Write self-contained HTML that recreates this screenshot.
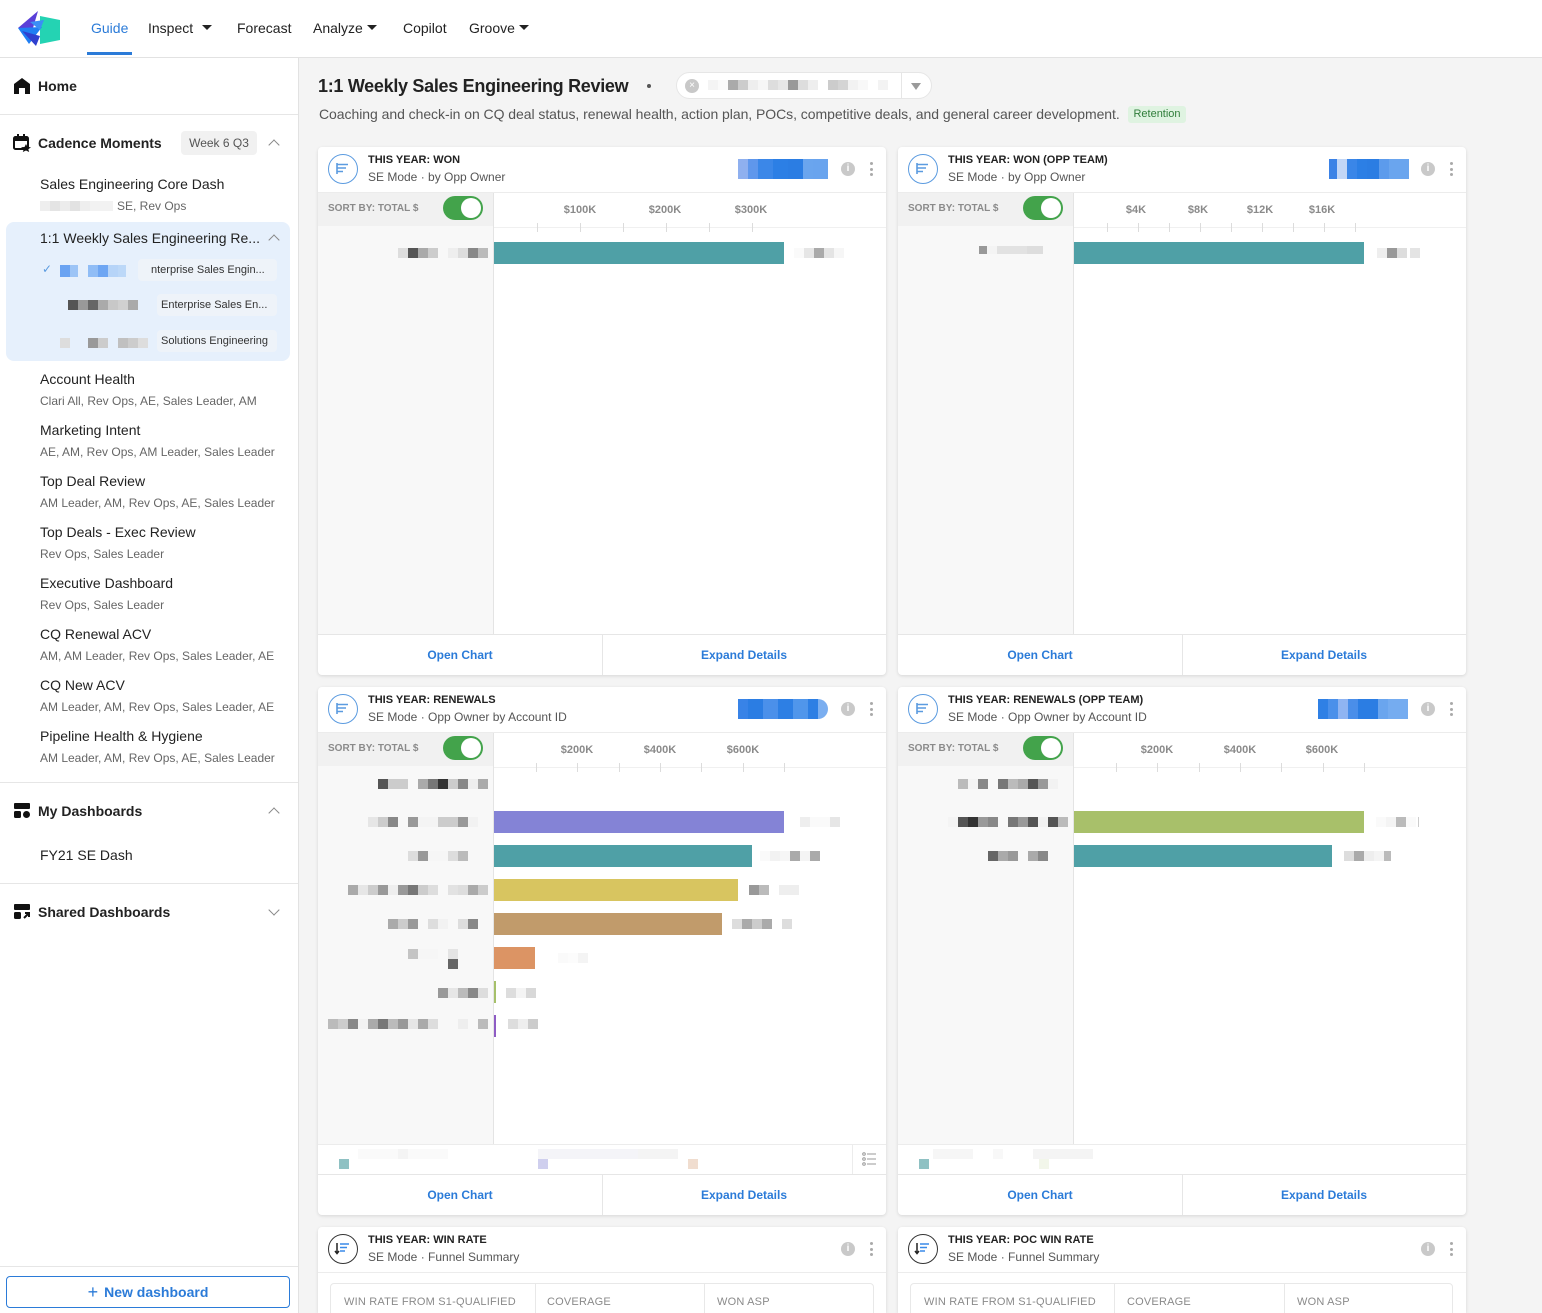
<!DOCTYPE html>
<html><head><meta charset="utf-8">
<style>
*{box-sizing:border-box;margin:0;padding:0}
html{width:1542px;height:1313px;overflow:hidden}
body{width:1542px;height:1313px;overflow:hidden;font-family:"Liberation Sans",Arial,sans-serif;background:#f4f4f4;position:relative;color:#222}
.a{position:absolute}
.nav{top:19px;font-size:14px;color:#222;line-height:18px;white-space:nowrap}
.tri{position:absolute;width:0;height:0;border-left:5px solid transparent;border-right:5px solid transparent;border-top:5px solid #222}
.sb{position:absolute;left:0;top:58px;width:299px;height:1255px;background:#fff;border-right:1px solid #e2e2e2}
.hr{position:absolute;left:0;width:298px;height:1px;background:#e6e6e6}
.it{position:absolute;left:40px;font-size:14px;line-height:18px;color:#222;white-space:nowrap}
.sub{position:absolute;left:40px;font-size:12px;line-height:14px;color:#666;white-space:nowrap}
.bold{font-weight:bold}
.chev{position:absolute;width:8px;height:8px;border-left:1.5px solid #888;border-top:1.5px solid #888;transform:rotate(45deg)}
.chevd{position:absolute;width:8px;height:8px;border-left:1.5px solid #888;border-top:1.5px solid #888;transform:rotate(225deg)}
.px{position:absolute;display:flex;height:10px}
.px i{display:block;height:10px;width:10px}
.card{position:absolute;width:568px;background:#fff;border-radius:4px;box-shadow:0 1px 3px rgba(0,0,0,.12);overflow:hidden}
.ttl{position:absolute;left:50px;top:6px;font-size:11px;font-weight:bold;line-height:14px;color:#222;white-space:nowrap}
.st{position:absolute;left:50px;top:23px;font-size:12px;line-height:14px;color:#555;white-space:nowrap}
.ico{position:absolute;left:10px;top:7px;width:30px;height:30px;border-radius:50%;border:1.5px solid #5b9be0}
.info{position:absolute;left:523px;top:15px;width:14px;height:14px;border-radius:50%;background:#c9c9c9;color:#fff;font-size:10px;font-weight:bold;line-height:14px;text-align:center}
.keb{position:absolute;left:552px;top:15px;width:3px;height:14px}
.keb i{display:block;width:3px;height:3px;border-radius:50%;background:#aaa;margin-bottom:2.5px}
.hl{position:absolute;left:0;width:568px;height:1px;background:#ececec}
.lp{position:absolute;left:0;top:46px;width:176px;background:#f8f8f8;border-right:1px solid #e4e4e4}
.sr{position:absolute;left:0;top:46px;width:175px;height:33px;background:#f1f1f1}
.srt{position:absolute;left:10px;top:56px;font-size:10px;font-weight:bold;color:#8a8a8a;line-height:12px;white-space:nowrap}
.tg{position:absolute;left:125px;top:49px;width:40px;height:24px;border-radius:12px;background:#43a34b}
.tg i{position:absolute;right:2px;top:2px;width:20px;height:20px;border-radius:50%;background:#fff}
.ax{position:absolute;top:57px;font-size:11px;font-weight:bold;color:#8a8a8a;line-height:12px;transform:translateX(-50%);white-space:nowrap}
.tk{position:absolute;top:76px;width:1px;height:9px;background:#dcdcdc}
.axl{position:absolute;left:176px;top:80px;width:392px;height:1px;background:#f0f0f0}
.bar{position:absolute;left:176px;height:22px}
.ft{position:absolute;left:0;width:568px;height:41px;border-top:1px solid #e6e6e6}
.ft span{position:absolute;top:13px;font-size:12px;font-weight:bold;color:#2b7bd8;line-height:14px;transform:translateX(-50%);white-space:nowrap}
.ft b{position:absolute;left:284px;top:0;width:1px;height:41px;background:#e6e6e6}
.blue{position:absolute;left:420px;top:12px;height:20px;display:flex}
.blue i{display:block;height:20px}
.cols{position:absolute;left:12px;top:56px;height:80px;border:1px solid #e8e8e8;border-radius:4px}
.cols span{position:absolute;top:11px;font-size:11px;color:#8a8a8a;line-height:14px;white-space:nowrap;letter-spacing:0.2px}
.cols b{position:absolute;top:0;width:1px;height:80px;background:#e8e8e8}
</style></head><body>

<!-- top nav -->
<div class="a" style="left:0;top:0;width:1542px;height:58px;background:#fff;border-bottom:1px solid #e2e2e2"></div>
<svg class="a" style="left:0;top:0" width="70" height="58" viewBox="0 0 70 58">
<polygon points="40,16 60,20 60,40 40,44" fill="#24d3b3"/>
<polygon points="18,28 38,11 33,28" fill="#5a3fd8"/>
<polygon points="18,28 42,27 29,44" fill="#1f7ef3"/>
<polygon points="22,31 36,46 40,36" fill="#2f3fcf"/>
<polygon points="30,22 44,20 40,30" fill="#3b8ef5"/>
</svg>
<div class="a nav" style="left:91px;color:#2b7bd8">Guide</div>
<div class="a" style="left:87px;top:52px;width:45px;height:3px;background:#2b7bd8"></div>
<div class="a nav" style="left:148px">Inspect</div><div class="tri" style="left:202px;top:25px"></div>
<div class="a nav" style="left:237px">Forecast</div>
<div class="a nav" style="left:313px">Analyze</div><div class="tri" style="left:367px;top:25px"></div>
<div class="a nav" style="left:403px">Copilot</div>
<div class="a nav" style="left:469px">Groove</div><div class="tri" style="left:519px;top:25px"></div>

<!-- sidebar -->
<div class="sb"></div>
<svg class="a" style="left:14px;top:78px" width="16" height="16" viewBox="0 0 16 16"><path d="M8 0 L16 6 L16 16 L11 16 L11 10 L5 10 L5 16 L0 16 L0 6 Z" fill="#111"/></svg>
<div class="it bold" style="left:38px;top:77px">Home</div>
<div class="hr" style="top:114px"></div>
<svg class="a" style="left:13px;top:134px" width="18" height="18" viewBox="0 0 18 18"><rect x="1" y="3" width="14" height="12" rx="1.5" fill="none" stroke="#111" stroke-width="2"/><rect x="1" y="3" width="14" height="4" fill="#111"/><rect x="4" y="0" width="2" height="4" fill="#111"/><rect x="10" y="0" width="2" height="4" fill="#111"/><polygon points="13,10 14.5,13 18,13.3 15.3,15.3 16.2,18 13,16.5 9.8,18 10.7,15.3 8,13.3 11.5,13" fill="#111"/></svg>
<div class="it bold" style="left:38px;top:134px">Cadence Moments</div>
<div class="a" style="left:181px;top:131px;width:76px;height:24px;background:#f1f1f1;border-radius:4px;font-size:12px;color:#555;line-height:24px;text-align:center">Week 6 Q3</div>
<div class="chev" style="left:270px;top:141px"></div>
<div class="it" style="top:175px">Sales Engineering Core Dash</div>
<div class="px" style="left:40px;top:201px"><i style="background:#eee"></i><i style="background:#e4e4e4"></i><i style="background:#ececec"></i><i style="background:#e2e2e2"></i><i style="background:#eee"></i><i style="background:#f2f2f2;width:23px"></i></div>
<div class="sub" style="left:117px;top:199px">SE, Rev Ops</div>

<div class="a" style="left:6px;top:222px;width:284px;height:139px;background:#e6f0fc;border-radius:8px"></div>
<div class="it" style="top:229px">1:1 Weekly Sales Engineering Re...</div>
<div class="chev" style="left:270px;top:236px"></div>
<div class="a" style="left:42px;top:262px;font-size:12px;color:#5b9be0">✓</div>
<div class="px" style="left:60px;top:265px;height:12px"><i style="background:#6aa3f2;height:12px"></i><i style="background:#9cc4f6;height:12px;width:8px"></i><i style="background:#e6f0fc;width:10px"></i><i style="background:#90bdf6;height:12px"></i><i style="background:#6ea6f3;height:12px"></i><i style="background:#b6d4f8;height:12px"></i><i style="background:#bcd8f8;height:12px;width:8px"></i></div>
<div class="a" style="left:138px;top:259px;width:139px;height:22px;background:#eef3f9;border-radius:4px;font-size:11px;color:#333;line-height:22px;padding-left:13px;white-space:nowrap">nterprise Sales Engin...</div>
<div class="px" style="left:68px;top:300px"><i style="background:#555"></i><i style="background:#999"></i><i style="background:#666"></i><i style="background:#aaa"></i><i style="background:#c8c8c8"></i><i style="background:#d0d0d0"></i><i style="background:#aaa"></i></div>
<div class="a" style="left:157px;top:294px;width:120px;height:22px;background:#eef3f9;border-radius:4px;font-size:11px;color:#333;line-height:22px;padding-left:4px;white-space:nowrap">Enterprise Sales En...</div>
<div class="px" style="left:60px;top:338px"><i style="background:#ddd"></i><i style="background:#e6f0fc;width:18px"></i><i style="background:#999"></i><i style="background:#ccc"></i><i style="background:#e6f0fc;width:10px"></i><i style="background:#c0c0c0"></i><i style="background:#ccc"></i><i style="background:#ddd"></i></div>
<div class="a" style="left:157px;top:330px;width:120px;height:22px;background:#eef3f9;border-radius:4px;font-size:11px;color:#333;line-height:22px;padding-left:4px;white-space:nowrap">Solutions Engineering</div>

<div class="it" style="top:370px">Account Health</div>
<div class="sub" style="top:394px">Clari All, Rev Ops, AE, Sales Leader, AM</div>
<div class="it" style="top:421px">Marketing Intent</div>
<div class="sub" style="top:445px">AE, AM, Rev Ops, AM Leader, Sales Leader</div>
<div class="it" style="top:472px">Top Deal Review</div>
<div class="sub" style="top:496px">AM Leader, AM, Rev Ops, AE, Sales Leader</div>
<div class="it" style="top:523px">Top Deals - Exec Review</div>
<div class="sub" style="top:547px">Rev Ops, Sales Leader</div>
<div class="it" style="top:574px">Executive Dashboard</div>
<div class="sub" style="top:598px">Rev Ops, Sales Leader</div>
<div class="it" style="top:625px">CQ Renewal ACV</div>
<div class="sub" style="top:649px">AM, AM Leader, Rev Ops, Sales Leader, AE</div>
<div class="it" style="top:676px">CQ New ACV</div>
<div class="sub" style="top:700px">AM Leader, AM, Rev Ops, Sales Leader, AE</div>
<div class="it" style="top:727px">Pipeline Health &amp; Hygiene</div>
<div class="sub" style="top:751px">AM Leader, AM, Rev Ops, AE, Sales Leader</div>
<div class="hr" style="top:782px"></div>
<svg class="a" style="left:14px;top:803px" width="16" height="15" viewBox="0 0 16 15"><rect x="0" y="0" width="16" height="6" rx="1" fill="#111"/><rect x="0" y="8" width="7" height="7" rx="1.5" fill="#111"/><circle cx="12.5" cy="11.5" r="3.5" fill="#111"/></svg>
<div class="it bold" style="left:38px;top:802px">My Dashboards</div>
<div class="chev" style="left:270px;top:809px"></div>
<div class="it" style="top:846px">FY21 SE Dash</div>
<div class="hr" style="top:883px"></div>
<svg class="a" style="left:14px;top:904px" width="16" height="15" viewBox="0 0 16 15"><rect x="0" y="0" width="16" height="6" rx="1" fill="#111"/><rect x="0" y="8" width="7" height="7" rx="1.5" fill="#111"/><path d="M10 14 L15 9 M11 9 L15 9 L15 13" stroke="#111" stroke-width="2" fill="none"/></svg>
<div class="it bold" style="left:38px;top:903px">Shared Dashboards</div>
<div class="chevd" style="left:270px;top:906px"></div>
<div class="hr" style="top:1266px"></div>
<div class="a" style="left:6px;top:1276px;width:284px;height:32px;border:1px solid #2b7bd8;border-radius:4px;font-size:14px;font-weight:bold;color:#2b7bd8;text-align:center;line-height:30px"><span style="font-weight:normal;font-size:18px;vertical-align:-1px;margin-right:6px">+</span>New dashboard</div>

<!-- main header -->
<div class="a" style="left:318px;top:75px;font-size:18px;font-weight:bold;letter-spacing:-0.3px;line-height:22px;color:#222;white-space:nowrap">1:1 Weekly Sales Engineering Review</div>
<div class="a" style="left:647px;top:84px;width:4px;height:4px;border-radius:50%;background:#555"></div>
<div class="a" style="left:676px;top:72px;width:256px;height:27px;background:#fff;border:1px solid #e6e6e6;border-radius:14px"></div>
<div class="a" style="left:685px;top:79px;width:14px;height:14px;border-radius:50%;background:#c8c8c8;color:#fff;font-size:10px;line-height:14px;text-align:center">×</div>
<div class="px" style="left:708px;top:80px;height:10px"><i style="background:#f4f4f4"></i><i style="background:#fafafa"></i><i style="background:#aaa"></i><i style="background:#ccc"></i><i style="background:#eee"></i><i style="background:#f6f6f6"></i><i style="background:#ddd"></i><i style="background:#e6e6e6"></i><i style="background:#999"></i><i style="background:#ddd"></i><i style="background:#eee"></i><i style="background:#fff"></i><i style="background:#ccc"></i><i style="background:#d4d4d4"></i><i style="background:#f2f2f2"></i><i style="background:#f8f8f8"></i><i style="background:#fff"></i><i style="background:#f3f3f3"></i></div>
<div class="a" style="left:901px;top:73px;width:1px;height:25px;background:#e6e6e6"></div>
<div class="tri" style="left:911px;top:83px;border-top-color:#9a9a9a;border-left-width:5px;border-right-width:5px;border-top-width:7px"></div>
<div class="a" style="left:319px;top:106px;font-size:14px;line-height:17px;color:#555;white-space:nowrap;letter-spacing:-0.05px">Coaching and check-in on CQ deal status, renewal health, action plan, POCs, competitive deals, and general career development.</div>
<div class="a" style="left:1128px;top:106px;width:58px;height:17px;background:#dff3e1;border-radius:3px;font-size:11px;line-height:17px;color:#2f7d3a;text-align:center">Retention</div>

<!-- CARD 1 -->
<div class="card" style="left:318px;top:147px;height:528px">
 <div class="ico"><svg width="27" height="27" viewBox="0 0 27 27"><g stroke="#5b9be0" stroke-width="1.6"><line x1="8" y1="8" x2="8" y2="19"/><line x1="8" y1="9.5" x2="19" y2="9.5"/><line x1="8" y1="13" x2="17" y2="13"/><line x1="8" y1="16.5" x2="14" y2="16.5"/></g></svg></div>
 <div class="ttl">THIS YEAR: WON</div>
 <div class="st">SE Mode · by Opp Owner</div>
 <div class="blue"><i style="width:10px;background:#8fb0ef"></i><i style="width:10px;background:#5f97ec"></i><i style="width:15px;background:#3b87e8"></i><i style="width:15px;background:#2c7fe5"></i><i style="width:15px;background:#2b7de3"></i><i style="width:10px;background:#6aa5ee"></i><i style="width:15px;background:#69a4ee"></i></div>
 <div class="info">i</div><div class="keb"><i></i><i></i><i></i></div>
 <div class="hl" style="top:45px"></div>
 <div class="lp" style="height:441px"></div><div class="sr"></div>
 <div class="srt">SORT BY: TOTAL $</div><div class="tg"><i></i></div>
 <div class="axl"></div>
 <div class="ax" style="left:262px">$100K</div><div class="ax" style="left:347px">$200K</div><div class="ax" style="left:433px">$300K</div>
 <div class="tk" style="left:219px"></div><div class="tk" style="left:262px"></div><div class="tk" style="left:305px"></div><div class="tk" style="left:348px"></div><div class="tk" style="left:391px"></div><div class="tk" style="left:434px"></div>
 <div class="px" style="left:80px;top:101px"><i style="background:#ddd"></i><i style="background:#555"></i><i style="background:#aaa"></i><i style="background:#ccc"></i><i style="background:#f8f8f8"></i><i style="background:#eee"></i><i style="background:#ddd"></i><i style="background:#888"></i><i style="background:#bbb"></i></div>
 <div class="bar" style="top:95px;width:290px;background:#4fa0a6"></div>
 <div class="px" style="left:476px;top:101px"><i style="background:#fafafa"></i><i style="background:#e6e6e6"></i><i style="background:#aaa"></i><i style="background:#e4e4e4"></i><i style="background:#f6f6f6"></i></div>
 <div class="ft" style="top:487px"><span style="left:142px">Open Chart</span><b></b><span style="left:426px">Expand Details</span></div>
</div>

<!-- CARD 2 -->
<div class="card" style="left:898px;top:147px;height:528px">
 <div class="ico"><svg width="27" height="27" viewBox="0 0 27 27"><g stroke="#5b9be0" stroke-width="1.6"><line x1="8" y1="8" x2="8" y2="19"/><line x1="8" y1="9.5" x2="19" y2="9.5"/><line x1="8" y1="13" x2="17" y2="13"/><line x1="8" y1="16.5" x2="14" y2="16.5"/></g></svg></div>
 <div class="ttl">THIS YEAR: WON (OPP TEAM)</div>
 <div class="st">SE Mode · by Opp Owner</div>
 <div class="blue" style="left:431px"><i style="width:8px;background:#3b82e6"></i><i style="width:10px;background:#c2d6f6"></i><i style="width:10px;background:#3a86e8"></i><i style="width:10px;background:#2c7fe5"></i><i style="width:12px;background:#2b7de3"></i><i style="width:10px;background:#5c9bec"></i><i style="width:20px;background:#6aa5ee"></i></div>
 <div class="info">i</div><div class="keb"><i></i><i></i><i></i></div>
 <div class="hl" style="top:45px"></div>
 <div class="lp" style="height:441px"></div><div class="sr"></div>
 <div class="srt">SORT BY: TOTAL $</div><div class="tg"><i></i></div>
 <div class="axl"></div>
 <div class="ax" style="left:238px">$4K</div><div class="ax" style="left:300px">$8K</div><div class="ax" style="left:362px">$12K</div><div class="ax" style="left:424px">$16K</div>
 <div class="tk" style="left:209px"></div><div class="tk" style="left:240px"></div><div class="tk" style="left:271px"></div><div class="tk" style="left:302px"></div><div class="tk" style="left:333px"></div><div class="tk" style="left:364px"></div><div class="tk" style="left:395px"></div><div class="tk" style="left:426px"></div><div class="tk" style="left:457px"></div>
 <div class="px" style="left:81px;top:99px;height:8px"><i style="background:#999;width:8px;height:8px"></i><i style="background:#f4f4f4;height:8px"></i><i style="background:#e2e2e2;width:30px;height:8px"></i><i style="background:#ddd;width:16px;height:8px"></i></div>
 <div class="bar" style="top:95px;width:290px;background:#4fa0a6"></div>
 <div class="px" style="left:479px;top:101px"><i style="background:#eee"></i><i style="background:#999"></i><i style="background:#ddd"></i><i style="background:#fff;width:3px"></i><i style="background:#e4e4e4"></i></div>
 <div class="ft" style="top:487px"><span style="left:142px">Open Chart</span><b></b><span style="left:426px">Expand Details</span></div>
</div>

<!-- CARD 3 -->
<div class="card" style="left:318px;top:687px;height:528px">
 <div class="ico"><svg width="27" height="27" viewBox="0 0 27 27"><g stroke="#5b9be0" stroke-width="1.6"><line x1="8" y1="8" x2="8" y2="19"/><line x1="8" y1="9.5" x2="19" y2="9.5"/><line x1="8" y1="13" x2="17" y2="13"/><line x1="8" y1="16.5" x2="14" y2="16.5"/></g></svg></div>
 <div class="ttl">THIS YEAR: RENEWALS</div>
 <div class="st">SE Mode · Opp Owner by Account ID</div>
 <div class="blue"><i style="width:10px;background:#3883e7"></i><i style="width:15px;background:#2b7de3"></i><i style="width:15px;background:#4b90ea"></i><i style="width:15px;background:#2d7fe4"></i><i style="width:15px;background:#5096eb"></i><i style="width:10px;background:#2d7fe4"></i><i style="width:10px;background:#7aaef0;border-radius:0 10px 10px 0"></i></div>
 <div class="info">i</div><div class="keb"><i></i><i></i><i></i></div>
 <div class="hl" style="top:45px"></div>
 <div class="lp" style="height:411px"></div><div class="sr"></div>
 <div class="srt">SORT BY: TOTAL $</div><div class="tg"><i></i></div>
 <div class="axl"></div>
 <div class="ax" style="left:259px">$200K</div><div class="ax" style="left:342px">$400K</div><div class="ax" style="left:425px">$600K</div>
 <div class="tk" style="left:218px"></div><div class="tk" style="left:259px"></div><div class="tk" style="left:301px"></div><div class="tk" style="left:342px"></div><div class="tk" style="left:383px"></div><div class="tk" style="left:425px"></div><div class="tk" style="left:466px"></div>
 <div class="px" style="left:60px;top:92px"><i style="background:#555"></i><i style="background:#ccc"></i><i style="background:#ccc"></i><i style="background:#f8f8f8"></i><i style="background:#aaa"></i><i style="background:#777"></i><i style="background:#333"></i><i style="background:#ccc"></i><i style="background:#888"></i><i style="background:#eee"></i><i style="background:#aaa"></i></div>
 <div class="px" style="left:50px;top:130px"><i style="background:#e6e6e6"></i><i style="background:#ccc"></i><i style="background:#888"></i><i style="background:#f8f8f8"></i><i style="background:#999"></i><i style="background:#f4f4f4"></i><i style="background:#f4f4f4"></i><i style="background:#ccc"></i><i style="background:#ccc"></i><i style="background:#999"></i><i style="background:#f2f2f2"></i></div>
 <div class="bar" style="top:124px;width:290px;background:#8483d6"></div>
 <div class="px" style="left:482px;top:130px"><i style="background:#eee"></i><i style="background:#fafafa"></i><i style="background:#fafafa"></i><i style="background:#e6e6e6"></i></div>
 <div class="px" style="left:90px;top:164px"><i style="background:#ddd"></i><i style="background:#999"></i><i style="background:#f6f6f6"></i><i style="background:#f6f6f6"></i><i style="background:#ddd"></i><i style="background:#bbb"></i></div>
 <div class="bar" style="top:158px;width:258px;background:#4fa0a6"></div>
 <div class="px" style="left:442px;top:164px"><i style="background:#fafafa"></i><i style="background:#f2f2f2"></i><i style="background:#f6f6f6"></i><i style="background:#aaa"></i><i style="background:#f4f4f4"></i><i style="background:#aaa"></i></div>
 <div class="px" style="left:30px;top:198px"><i style="background:#aaa"></i><i style="background:#e6e6e6"></i><i style="background:#ccc"></i><i style="background:#999"></i><i style="background:#eee"></i><i style="background:#999"></i><i style="background:#777"></i><i style="background:#ccc"></i><i style="background:#ddd"></i><i style="background:#f8f8f8"></i><i style="background:#e2e2e2"></i><i style="background:#ddd"></i><i style="background:#aaa"></i><i style="background:#ccc"></i></div>
 <div class="bar" style="top:192px;width:244px;background:#d8c560"></div>
 <div class="px" style="left:431px;top:198px"><i style="background:#999"></i><i style="background:#bbb"></i><i style="background:#fff"></i><i style="background:#eee"></i><i style="background:#eee"></i></div>
 <div class="px" style="left:70px;top:232px"><i style="background:#aaa"></i><i style="background:#ccc"></i><i style="background:#999"></i><i style="background:#f8f8f8"></i><i style="background:#ddd"></i><i style="background:#f2f2f2"></i><i style="background:#f8f8f8"></i><i style="background:#ddd"></i><i style="background:#888"></i></div>
 <div class="bar" style="top:226px;width:228px;background:#c19b6b"></div>
 <div class="px" style="left:414px;top:232px"><i style="background:#ddd"></i><i style="background:#aaa"></i><i style="background:#ccc"></i><i style="background:#aaa"></i><i style="background:#fff"></i><i style="background:#ddd"></i></div>
 <div class="px" style="left:90px;top:262px"><i style="background:#c4c4c4"></i><i style="background:#f6f6f6"></i><i style="background:#f6f6f6"></i><i style="background:#f8f8f8"></i><i style="background:#e4e4e4"></i></div>
 <div class="px" style="left:130px;top:272px"><i style="background:#666"></i></div>
 <div class="bar" style="top:260px;width:41px;background:#dc9464"></div>
 <div class="px" style="left:240px;top:266px"><i style="background:#fafafa"></i><i style="background:#fcfcfc"></i><i style="background:#f4f4f4"></i></div>
 <div class="px" style="left:120px;top:301px"><i style="background:#999"></i><i style="background:#e6e6e6"></i><i style="background:#bbb"></i><i style="background:#888"></i><i style="background:#ddd"></i></div>
 <div class="bar" style="top:294px;width:2px;background:#a6c06a"></div>
 <div class="px" style="left:188px;top:301px"><i style="background:#ddd"></i><i style="background:#f4f4f4"></i><i style="background:#d8d8d8"></i></div>
 <div class="px" style="left:10px;top:332px"><i style="background:#bbb"></i><i style="background:#ccc"></i><i style="background:#888"></i><i style="background:#f2f2f2"></i><i style="background:#aaa"></i><i style="background:#777"></i><i style="background:#bbb"></i><i style="background:#999"></i><i style="background:#e6e6e6"></i><i style="background:#aaa"></i><i style="background:#ddd"></i><i style="background:#f8f8f8"></i><i style="background:#f8f8f8"></i><i style="background:#eee"></i><i style="background:#f8f8f8"></i><i style="background:#bbb"></i></div>
 <div class="bar" style="top:328px;width:2px;background:#8e5cc4"></div>
 <div class="px" style="left:190px;top:332px"><i style="background:#ddd"></i><i style="background:#eee"></i><i style="background:#ccc"></i></div>
 <div class="hl" style="top:457px"></div>
 <div class="px" style="left:21px;top:472px"><i style="background:#8fc1c3"></i></div>
 <div class="px" style="left:40px;top:462px"><i style="background:#fafafa;width:40px"></i><i style="background:#f4f4f4"></i><i style="background:#fafafa;width:40px"></i></div>
 <div class="px" style="left:220px;top:472px"><i style="background:#cfcfee"></i></div>
 <div class="px" style="left:220px;top:462px"><i style="background:#f4f4f8;width:100px"></i><i style="background:#f4f4f4;width:40px"></i></div>
 <div class="px" style="left:370px;top:472px"><i style="background:#f0ddcf"></i></div>
 <div class="a" style="left:534px;top:457px;width:1px;height:30px;background:#ececec"></div>
 <svg class="a" style="left:544px;top:465px" width="14" height="14" viewBox="0 0 14 14"><g fill="none" stroke="#999" stroke-width="1"><circle cx="2" cy="2" r="1.3"/><circle cx="2" cy="7" r="1.3"/><circle cx="2" cy="12" r="1.3"/><line x1="5" y1="2" x2="14" y2="2"/><line x1="5" y1="7" x2="14" y2="7"/><line x1="5" y1="12" x2="14" y2="12"/></g></svg>
 <div class="ft" style="top:487px"><span style="left:142px">Open Chart</span><b></b><span style="left:426px">Expand Details</span></div>
</div>

<!-- CARD 4 -->
<div class="card" style="left:898px;top:687px;height:528px">
 <div class="ico"><svg width="27" height="27" viewBox="0 0 27 27"><g stroke="#5b9be0" stroke-width="1.6"><line x1="8" y1="8" x2="8" y2="19"/><line x1="8" y1="9.5" x2="19" y2="9.5"/><line x1="8" y1="13" x2="17" y2="13"/><line x1="8" y1="16.5" x2="14" y2="16.5"/></g></svg></div>
 <div class="ttl">THIS YEAR: RENEWALS (OPP TEAM)</div>
 <div class="st">SE Mode · Opp Owner by Account ID</div>
 <div class="blue"><i style="width:10px;background:#2f80e5"></i><i style="width:10px;background:#4b90ea"></i><i style="width:10px;background:#8fb4f2"></i><i style="width:10px;background:#4a8ee9"></i><i style="width:20px;background:#2b7de3"></i><i style="width:10px;background:#6aa5ee"></i><i style="width:20px;background:#75acf0"></i></div>
 <div class="info">i</div><div class="keb"><i></i><i></i><i></i></div>
 <div class="hl" style="top:45px"></div>
 <div class="lp" style="height:411px"></div><div class="sr"></div>
 <div class="srt">SORT BY: TOTAL $</div><div class="tg"><i></i></div>
 <div class="axl"></div>
 <div class="ax" style="left:259px">$200K</div><div class="ax" style="left:342px">$400K</div><div class="ax" style="left:424px">$600K</div>
 <div class="tk" style="left:218px"></div><div class="tk" style="left:259px"></div><div class="tk" style="left:301px"></div><div class="tk" style="left:342px"></div><div class="tk" style="left:383px"></div><div class="tk" style="left:425px"></div><div class="tk" style="left:466px"></div>
 <div class="px" style="left:60px;top:92px"><i style="background:#bbb"></i><i style="background:#f4f4f4"></i><i style="background:#888"></i><i style="background:#f8f8f8"></i><i style="background:#777"></i><i style="background:#bbb"></i><i style="background:#aaa"></i><i style="background:#555"></i><i style="background:#999"></i><i style="background:#f2f2f2"></i></div>
 <div class="px" style="left:50px;top:130px"><i style="background:#f4f4f4"></i><i style="background:#555"></i><i style="background:#333"></i><i style="background:#999"></i><i style="background:#888"></i><i style="background:#f8f8f8"></i><i style="background:#777"></i><i style="background:#999"></i><i style="background:#555"></i><i style="background:#f2f2f2"></i><i style="background:#555"></i><i style="background:#bbb"></i></div>
 <div class="bar" style="top:124px;width:290px;background:#a8c06a"></div>
 <div class="px" style="left:478px;top:130px"><i style="background:#fafafa"></i><i style="background:#f4f4f4"></i><i style="background:#bbb"></i><i style="background:#fafafa"></i><i style="background:#fff;width:2px"></i><i style="background:#ccc;width:1px"></i></div>
 <div class="px" style="left:90px;top:164px"><i style="background:#666"></i><i style="background:#aaa"></i><i style="background:#999"></i><i style="background:#f8f8f8"></i><i style="background:#aaa"></i><i style="background:#888"></i></div>
 <div class="bar" style="top:158px;width:258px;background:#4fa0a6"></div>
 <div class="px" style="left:446px;top:164px"><i style="background:#ddd"></i><i style="background:#aaa"></i><i style="background:#eee"></i><i style="background:#f4f4f4"></i><i style="background:#bbb;width:7px"></i></div>
 <div class="hl" style="top:457px"></div>
 <div class="px" style="left:21px;top:472px"><i style="background:#8fc1c3"></i></div>
 <div class="px" style="left:35px;top:462px"><i style="background:#f6f6f6;width:40px"></i><i style="background:#fff;width:20px"></i><i style="background:#f8f8f8"></i><i style="background:#fff;width:30px"></i><i style="background:#f4f4f4;width:60px"></i></div>
 <div class="px" style="left:141px;top:472px"><i style="background:#f2f6ea"></i></div>
 <div class="ft" style="top:487px"><span style="left:142px">Open Chart</span><b></b><span style="left:426px">Expand Details</span></div>
</div>

<!-- CARD 5 -->
<div class="card" style="left:318px;top:1227px;height:86px;border-radius:4px 4px 0 0">
 <div class="ico" style="border-color:#333"><svg width="27" height="27" viewBox="0 0 27 27"><g stroke-width="1.5"><line x1="8" y1="8" x2="8" y2="18" stroke="#222"/><polyline points="6,16 8,18.5 10,16" fill="none" stroke="#222"/><line x1="11" y1="9" x2="20" y2="9" stroke="#3a8ae8"/><line x1="11" y1="12.5" x2="18" y2="12.5" stroke="#3a8ae8"/><line x1="11" y1="16" x2="16" y2="16" stroke="#3a8ae8"/></g></svg></div>
 <div class="ttl">THIS YEAR: WIN RATE</div>
 <div class="st">SE Mode · Funnel Summary</div>
 <div class="info">i</div><div class="keb"><i></i><i></i><i></i></div>
 <div class="hl" style="top:45px"></div>
 <div class="cols" style="width:544px"><span style="left:13px">WIN RATE FROM S1-QUALIFIED</span><b style="left:204px"></b><span style="left:216px">COVERAGE</span><b style="left:373px"></b><span style="left:386px">WON ASP</span></div>
</div>

<!-- CARD 6 -->
<div class="card" style="left:898px;top:1227px;height:86px;border-radius:4px 4px 0 0">
 <div class="ico" style="border-color:#333"><svg width="27" height="27" viewBox="0 0 27 27"><g stroke-width="1.5"><line x1="8" y1="8" x2="8" y2="18" stroke="#222"/><polyline points="6,16 8,18.5 10,16" fill="none" stroke="#222"/><line x1="11" y1="9" x2="20" y2="9" stroke="#3a8ae8"/><line x1="11" y1="12.5" x2="18" y2="12.5" stroke="#3a8ae8"/><line x1="11" y1="16" x2="16" y2="16" stroke="#3a8ae8"/></g></svg></div>
 <div class="ttl">THIS YEAR: POC WIN RATE</div>
 <div class="st">SE Mode · Funnel Summary</div>
 <div class="info">i</div><div class="keb"><i></i><i></i><i></i></div>
 <div class="hl" style="top:45px"></div>
 <div class="cols" style="width:543px"><span style="left:13px">WIN RATE FROM S1-QUALIFIED</span><b style="left:203px"></b><span style="left:216px">COVERAGE</span><b style="left:373px"></b><span style="left:386px">WON ASP</span></div>
</div>

</body></html>
